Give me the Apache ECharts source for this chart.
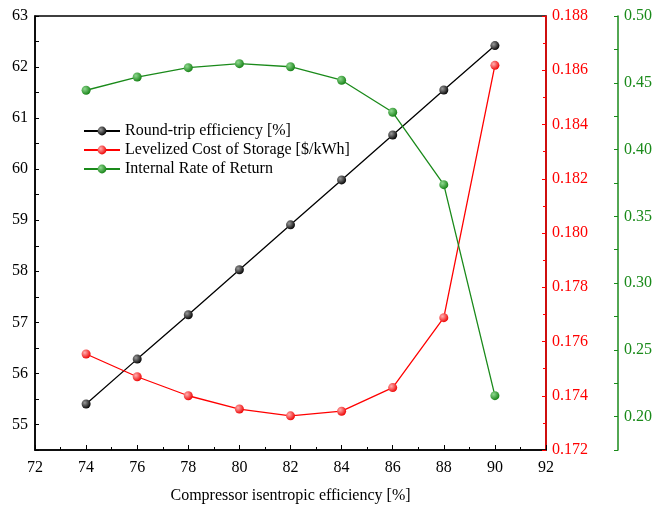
<!DOCTYPE html>
<html>
<head>
<meta charset="utf-8">
<script src="https://cdn.jsdelivr.net/npm/echarts@6/dist/echarts.min.js"></script>
<style>
html,body{margin:0;padding:0;background:#fff;}
#main{width:658px;height:505px;}
</style>
</head>
<body>
<div id="main"></div>
<script>
// 数据
var xVals = [74, 76, 78, 80, 82, 84, 86, 88, 90];
var rte = [55.40, 56.28, 57.15, 58.03, 58.91, 59.79, 60.67, 61.55, 62.42];
var lcos = [0.17554, 0.17470, 0.17400, 0.17351, 0.17326, 0.17343, 0.17430, 0.17688, 0.18618];
var irr = [0.4444, 0.4543, 0.4613, 0.4643, 0.4620, 0.4519, 0.4279, 0.3737, 0.2157];
var names = ['Round-trip efficiency [%]', 'Levelized Cost of Storage [$/kWh]', 'Internal Rate of Return'];

var font = 'Liberation Serif';
var fs = 16;
var cBlack = '#000000', cRed = '#ff0000', cGreen = '#1a8a1a';

function pairs(ys) {
	return xVals.map(function(x, i) { return [x, ys[i]]; });
}
function ball(hi, base) {
	return {
		type: 'radial', x: 0.35, y: 0.35, r: 0.7,
		colorStops: [{offset: 0, color: hi}, {offset: 1, color: base}]
	};
}
function yAx(min, max, interval, color, opts) {
	var a = {
		type: 'value', min: min, max: max, interval: interval,
		axisLine: {show: true, lineStyle: {color: color, width: 1.5}},
		axisTick: {show: true, inside: true, length: 4, lineStyle: {color: color}},
		splitLine: {show: false},
		axisLabel: {color: color, fontFamily: font, fontSize: fs, margin: 6}
	};
	for (var k in opts) a[k] = opts[k];
	return a;
}

var myChart = echarts.init(document.getElementById('main'));
var option = {
	backgroundColor: '#fff',
	animation: false,
	grid: {left: 35, top: 16, right: 112, bottom: 55, containLabel: false, outerBoundsMode: 'none',
		show: true, borderColor: '#000', borderWidth: 1.5},
	legend: {
		orient: 'vertical', left: 78, top: 118, itemWidth: 36, itemHeight: 11, itemGap: 3,
		textStyle: {fontFamily: font, fontSize: fs, color: '#000'},
		data: names
	},
	xAxis: {
		type: 'value', min: 72, max: 92, interval: 2,
		name: 'Compressor isentropic efficiency [%]', nameLocation: 'middle', nameGap: 38,
		nameTextStyle: {fontFamily: font, fontSize: fs, color: '#000'},
		axisLine: {lineStyle: {color: '#000', width: 1.5}},
		axisTick: {inside: true, length: 5, lineStyle: {color: '#000'}},
		minorTick: {show: true, splitNumber: 2, length: 3, lineStyle: {color: '#000'}},
		splitLine: {show: false},
		axisLabel: {color: '#000', fontFamily: font, fontSize: fs, margin: 10}
	},
	yAxis: [
		yAx(54.5, 63, 0.5, cBlack, {
			position: 'left',
			axisLabel: {color: cBlack, fontFamily: font, fontSize: fs, margin: 7,
				formatter: function(v) { return Math.abs(v - Math.round(v)) < 1e-6 ? String(Math.round(v)) : ''; }}
		}),
		yAx(0.172, 0.188, 0.002, cRed, {
			position: 'right',
			minorTick: {show: true, splitNumber: 2, length: 3, lineStyle: {color: cRed}},
			axisLabel: {color: cRed, fontFamily: font, fontSize: fs, margin: 6,
				formatter: function(v) { return v.toFixed(3); }}
		}),
		yAx(0.175, 0.5, 0.025, cGreen, {
			position: 'right', offset: 72,
			axisLabel: {color: cGreen, fontFamily: font, fontSize: fs, margin: 6,
				formatter: function(v) { return Math.abs(v * 20 - Math.round(v * 20)) < 1e-6 ? v.toFixed(2) : ''; }}
		})
	],
	series: [
		{name: names[0], type: 'line', yAxisIndex: 0, data: pairs(rte),
			symbol: 'circle', symbolSize: 9,
			lineStyle: {color: cBlack, width: 1.3},
			itemStyle: {color: ball('#9a9a9a', '#000000'), borderWidth: 0}},
		{name: names[1], type: 'line', yAxisIndex: 1, data: pairs(lcos),
			symbol: 'circle', symbolSize: 9,
			lineStyle: {color: cRed, width: 1.3},
			itemStyle: {color: ball('#ffb0b0', '#ee0000'), borderWidth: 0}},
		{name: names[2], type: 'line', yAxisIndex: 2, data: pairs(irr),
			symbol: 'circle', symbolSize: 9,
			lineStyle: {color: cGreen, width: 1.3},
			itemStyle: {color: ball('#8fd88f', '#138013'), borderWidth: 0}}
	]
};
myChart.setOption(option);
</script>
</body>
</html>
